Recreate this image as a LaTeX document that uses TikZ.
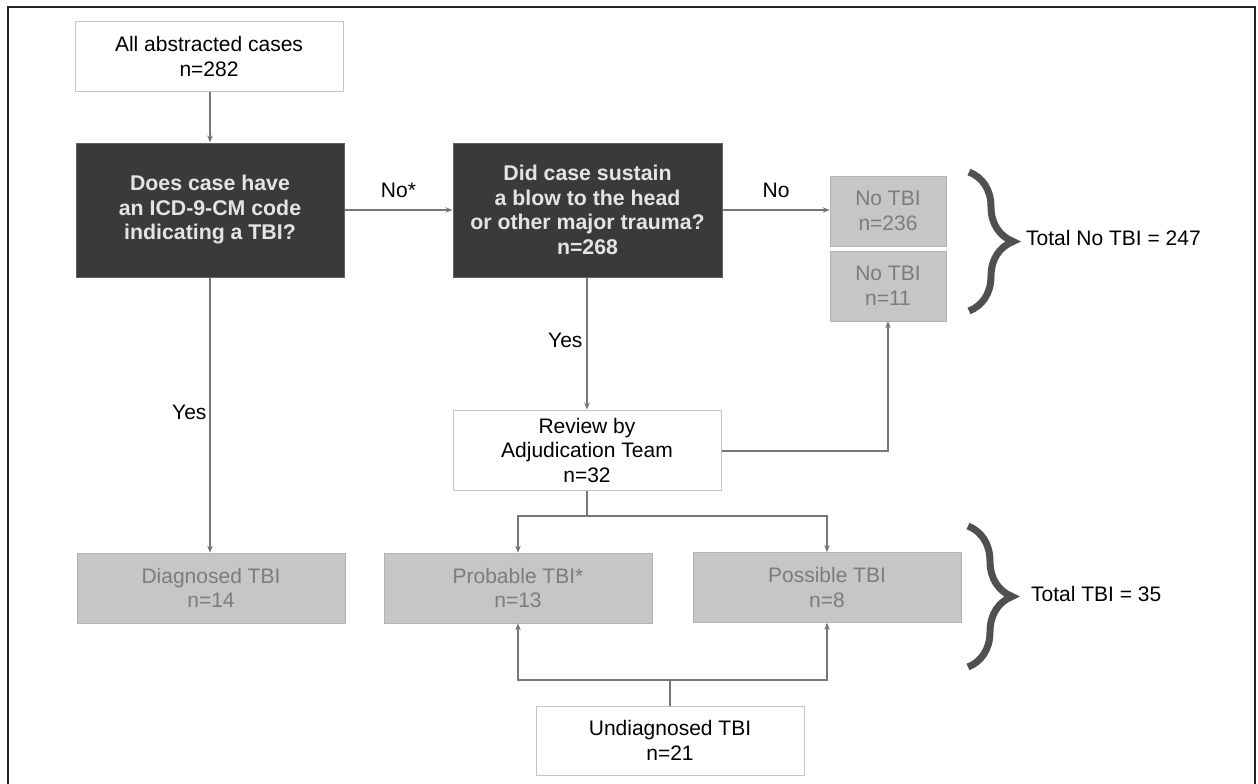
\documentclass[tikz,border=0pt]{standalone}
\usepackage{fontspec}
\setmainfont{Liberation Sans}
\usetikzlibrary{arrows.meta,decorations.pathreplacing}
\definecolor{darkbox}{HTML}{3A3A3A}
\definecolor{darktext}{HTML}{E4E4E4}
\definecolor{graybox}{HTML}{C6C6C6}
\definecolor{graytext}{HTML}{7C7C7C}
\definecolor{linecol}{HTML}{777777}
\definecolor{bordercol}{HTML}{C4C4C4}
\definecolor{bracecol}{HTML}{505050}
\tikzset{
  base/.style={rectangle, inner sep=0pt, align=center, font=\fontsize{21}{24.5}\selectfont},
  whitebox/.style={base, draw=bordercol, line width=1pt, fill=white, text=black},
  darkq/.style={base, draw=darkbox!80!white, line width=1pt, fill=darkbox, text=darktext, font=\fontsize{21.3}{24.5}\selectfont\bfseries},
  grayres/.style={base, draw=graybox!90!black, line width=0.6pt, fill=graybox, text=graytext},
  conn/.style={draw=linecol, line width=1.1pt},
  arr/.style={conn, -{Stealth[length=7pt,width=5.5pt]}},
  lbl/.style={font=\fontsize{21}{24.5}\selectfont, text=black, inner sep=0pt},
  bracestyle/.style={draw=bracecol, line width=7pt, decorate, decoration={brace, amplitude=44pt}},
}
\begin{document}
\begin{tikzpicture}[x=1pt,y=1pt]
\useasboundingbox (0,0) rectangle (1258,-784);
\fill[white] (0,0) rectangle (1258,-784);
% outer frame (open at bottom)
\draw[line width=1.4pt, black!85] (8,-784) -- (8,-7) -- (1255,-7) -- (1255,-784);

% nodes
\node[whitebox, minimum width=268pt, minimum height=69pt] (A) at (209,-56.5) {All abstracted cases\\n=282};
\node[darkq, minimum width=268pt, minimum height=134pt] (B) at (210,-210) {Does case have\\an ICD-9-CM code\\indicating a TBI?};
\node[darkq, minimum width=269pt, minimum height=134pt] (C) at (587.5,-210) {Did case sustain\\a blow to the head\\or other major trauma?\\n=268};
\node[grayres, minimum width=116pt, minimum height=70pt] (D) at (888,-211) {No TBI\\n=236};
\node[grayres, minimum width=116pt, minimum height=70pt] (E) at (888,-286) {No TBI\\n=11};
\node[whitebox, minimum width=268pt, minimum height=80pt] (F) at (587,-450) {Review by\\Adjudication Team\\n=32};
\node[grayres, minimum width=268pt, minimum height=70pt] (G) at (211,-588) {Diagnosed TBI\\n=14};
\node[grayres, minimum width=268pt, minimum height=70pt] (H) at (518,-588) {Probable TBI*\\n=13};
\node[grayres, minimum width=268pt, minimum height=70pt] (I) at (827,-587.5) {Possible TBI\\n=8};
\node[whitebox, minimum width=268pt, minimum height=69pt] (J) at (670,-740.5) {Undiagnosed TBI\\n=21};

% connectors
\draw[arr] (A.south -| B.north) -- (B.north);
\draw[arr] (B.east) -- node[lbl, above=12pt, pos=0.5] (noStar) {No*} (C.west);
\draw[arr] (C.east) -- node[lbl, above=12pt, pos=0.5] (noLbl) {No} (C.east -| D.west);
\draw[arr] (B.south) -- node[lbl, left=3pt, pos=0.489] (yes1) {Yes} (G.north -| B.south);
\draw[arr] (C.south -| F.north) -- node[lbl, left=4pt, pos=0.48] (yes2) {Yes} (F.north);
\coordinate (fe) at (888,-451);
\draw[arr] (F.east |- fe) -- (fe) -- (E.south);
\coordinate (split) at (587,-516);
\draw[conn] (F.south) -- (split);
\draw[arr] (split) -| (H.north);
\draw[arr] (split) -| (I.north);
\coordinate (join) at (670,-680);
\draw[conn] (J.north) -- (join);
\draw[arr] (join) -| (H.south);
\draw[arr] (join) -| (I.south);

% braces
\draw[bracestyle] (969,-172) -- (969,-311);
\draw[bracestyle] (968,-526) -- (968,-667);
\node[lbl, anchor=west] (tot1) at (1026,-238) {Total No TBI = 247};
\node[lbl, anchor=west] (tot2) at (1031,-594) {Total TBI = 35};
\end{tikzpicture}
\end{document}
